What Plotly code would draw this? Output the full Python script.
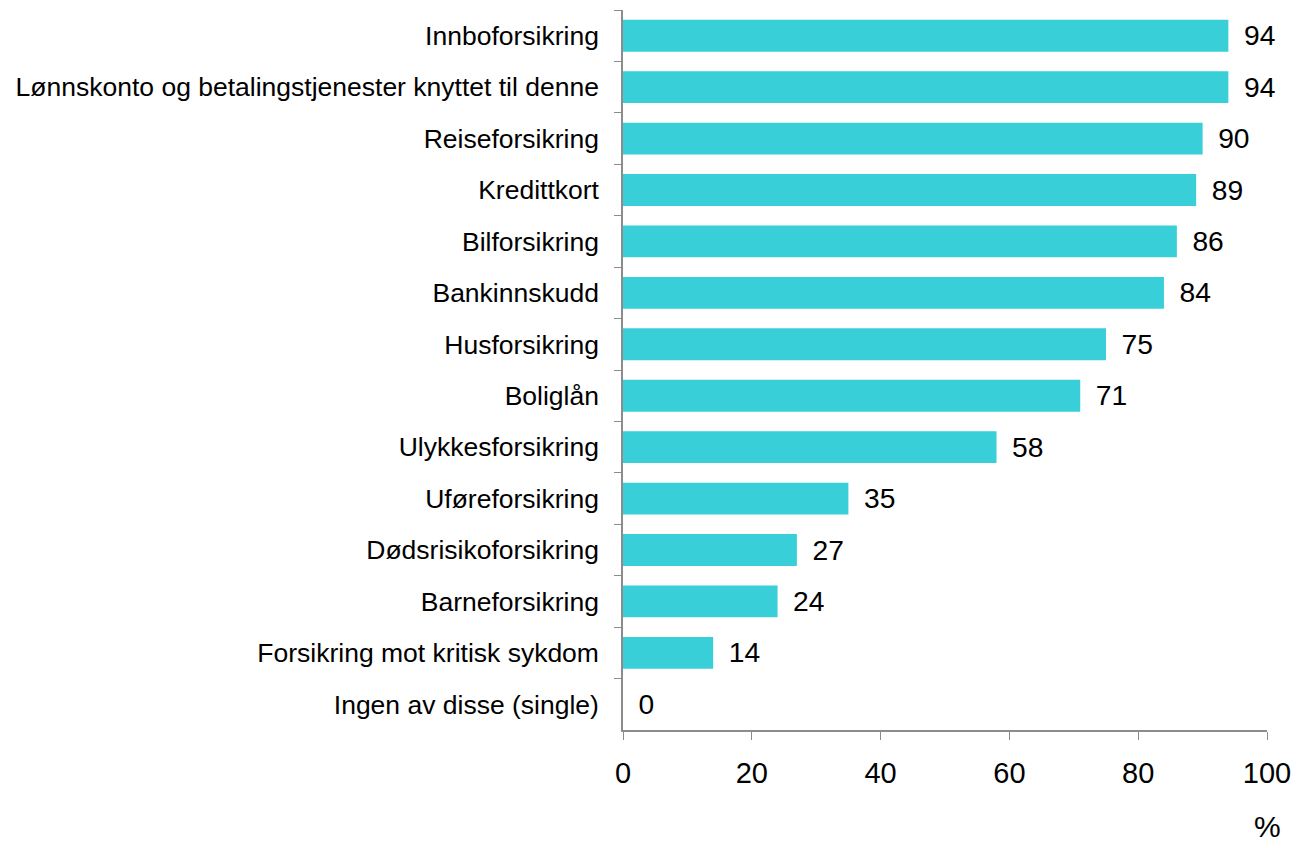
import plotly.graph_objects as go

categories = [
    "Innboforsikring",
    "Lønnskonto og betalingstjenester knyttet til denne",
    "Reiseforsikring",
    "Kredittkort",
    "Bilforsikring",
    "Bankinnskudd",
    "Husforsikring",
    "Boliglån",
    "Ulykkesforsikring",
    "Uføreforsikring",
    "Dødsrisikoforsikring",
    "Barneforsikring",
    "Forsikring mot kritisk sykdom",
    "Ingen av disse (single)",
]
values = [94, 94, 90, 89, 86, 84, 75, 71, 58, 35, 27, 24, 14, 0]
x_ticks = [0, 20, 40, 60, 80, 100]

bar_color = "#38CFD8"
axis_color = "#8C8C8C"
font_family = "Liberation Sans, Arial, sans-serif"

fig = go.Figure()
fig.add_trace(go.Bar(
    x=values,
    y=categories,
    orientation="h",
    marker=dict(color=bar_color, line=dict(width=0)),
    text=["\u00a0\u2006" + str(v) for v in values],
    textposition="outside",
    textfont=dict(size=31, color="#000000", family=font_family),
    cliponaxis=False,
))

fig.update_layout(
    width=1297,
    height=848,
    margin=dict(l=623, r=30, t=10, b=118),
    plot_bgcolor="white",
    paper_bgcolor="white",
    bargap=0.38,
    showlegend=False,
    font=dict(family=font_family, color="#000000"),
    xaxis=dict(
        range=[0, 100],
        tickvals=x_ticks,
        ticks="outside",
        ticklen=8,
        tickcolor=axis_color,
        showline=True,
        linecolor=axis_color,
        linewidth=1.5,
        showgrid=False,
        zeroline=False,
        tickfont=dict(size=29),
        ticklabelstandoff=8,
        automargin=False,
    ),
    yaxis=dict(
        categoryorder="array",
        categoryarray=categories,
        autorange="reversed",
        ticks="outside",
        tickson="boundaries",
        ticklen=7,
        tickcolor=axis_color,
        showline=True,
        linecolor=axis_color,
        linewidth=1.5,
        showgrid=False,
        zeroline=False,
        tickfont=dict(size=26.5),
        ticklabelstandoff=17,
        automargin=False,
    ),
    annotations=[dict(
        x=100, y=-0.134, xref="x", yref="paper",
        text="%", showarrow=False,
        font=dict(size=30),
        xanchor="center", yanchor="middle",
    )],
)

# drop the default 8px body margin so the figure fills the window
fig.write_html(
    "out.html",
    config={"displayModeBar": False},
    post_script="document.body.style.margin='0';",
)
